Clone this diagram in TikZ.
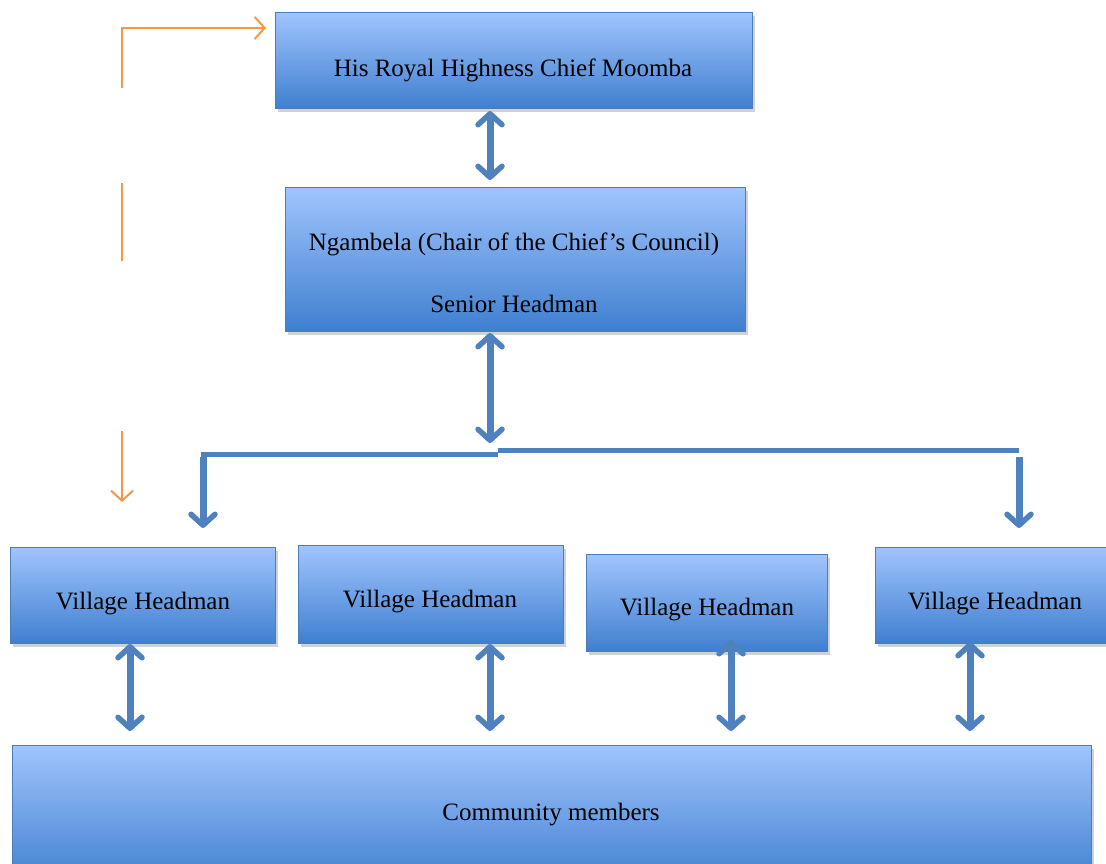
\documentclass[tikz,border=0pt]{standalone}
\usepackage{fontspec}
\setmainfont{Liberation Serif}
\usetikzlibrary{arrows.meta,shadows}
\definecolor{boxtop}{HTML}{A0C4FD}
\definecolor{boxbot}{HTML}{3F7FD0}
\definecolor{boxline}{HTML}{4A7EBB}
\definecolor{arr}{HTML}{4F81BD}
\definecolor{org}{HTML}{F79646}
\tikzset{
  box/.style={draw=boxline, line width=1pt, top color=boxtop, bottom color=boxbot,
    drop shadow={shadow xshift=2pt, shadow yshift=-3pt, opacity=0.3, fill=black!60},
    anchor=north west, inner sep=0pt},
  txt/.style={font=\fontsize{25}{30}\selectfont, inner sep=0pt},
  tip/.style={Straight Barb[length=11pt,width=24pt,line width=5.5pt,round]},
  dbl/.style={draw=arr, line width=7pt, {Straight Barb[length=11pt,width=24pt,line width=5.5pt,round]}-{Straight Barb[length=11pt,width=24pt,line width=5.5pt,round]}},
  sgl/.style={draw=arr, line width=7pt, -{Straight Barb[length=11pt,width=24pt,line width=5.5pt,round]}},
  bar/.style={draw=arr, line width=5pt},
  orng/.style={draw=org, line width=2pt},
  orarr/.style={orng, -{Straight Barb[length=10pt,width=22pt,line width=2pt]}}
}
\begin{document}
\begin{tikzpicture}[x=1pt,y=-1pt]
\useasboundingbox (0,0) rectangle (1106,863);
% boxes
\node[box, minimum width=477pt, minimum height=96pt] (chief) at (275,12) {};
\node[box, minimum width=460pt, minimum height=144pt] (ng) at (285,187) {};
\node[box, minimum width=265pt, minimum height=96pt] (v1) at (10,547) {};
\node[box, minimum width=265pt, minimum height=98pt] (v2) at (298,545) {};
\node[box, minimum width=241pt, minimum height=97pt] (v3) at (586,554) {};
\node[box, minimum width=231pt, minimum height=96pt] (v4) at (875,547) {};
\node[box, minimum width=1079pt, minimum height=140pt] (cm) at (12,745) {};
% texts
\node[txt] (chieft) at (513,70) {His Royal Highness Chief Moomba};
\node[txt] (ngt1) at (514,244) {Ngambela (Chair of the Chief's Council)};
\node[txt] (ngt2) at (514,304) {Senior Headman};
\node[txt] (v1t) at (143,604) {Village Headman};
\node[txt] (v2t) at (430,602) {Village Headman};
\node[txt] (v3t) at (707,610) {Village Headman};
\node[txt] (v4t) at (995,604) {Village Headman};
\node[txt] (cmt) at (551,815) {Community members};
% coordinates
\coordinate (a1s) at (490,111);
\coordinate (a1e) at (490,180);
\coordinate (a2s) at (490,333);
\coordinate (a2e) at (490,443);
\coordinate (hl) at (201,454);
\coordinate (hm) at (498,454);
\coordinate (hm2) at (498,450);
\coordinate (hr) at (1019,450);
\coordinate (l1) at (203,457);
\coordinate (l2) at (203,528);
\coordinate (r1) at (1019,457);
\coordinate (r2) at (1019,528);
\coordinate (b1s) at (130,644);
\coordinate (b1e) at (130,731);
\coordinate (b2s) at (490,644);
\coordinate (b2e) at (490,731);
\coordinate (b3s) at (731,640);
\coordinate (b3e) at (731,731);
\coordinate (b4s) at (970,642);
\coordinate (b4e) at (970,731);
% connectors
\draw[dbl] (a1s) -- (a1e);
\draw[dbl] (a2s) -- (a2e);
\draw[bar] (hl) -- (hm);
\draw[bar] (hm2) -- (hr);
\draw[sgl] (l1) -- (l2);
\draw[sgl] (r1) -- (r2);
\draw[dbl] (b1s) -- (b1e);
\draw[dbl] (b2s) -- (b2e);
\draw[dbl] (b3s) -- (b3e);
\draw[dbl] (b4s) -- (b4e);
% orange
\coordinate (o1) at (122,88);
\coordinate (o2) at (122,28);
\coordinate (o3) at (266,28);
\coordinate (o4) at (122,183);
\coordinate (o5) at (122,261);
\coordinate (o6) at (122,431);
\coordinate (o7) at (122,502);
\draw[orarr] (o1) -- (o2) -- (o3);
\draw[orng] (o4) -- (o5);
\draw[orarr] (o6) -- (o7);
\end{tikzpicture}
\end{document}
